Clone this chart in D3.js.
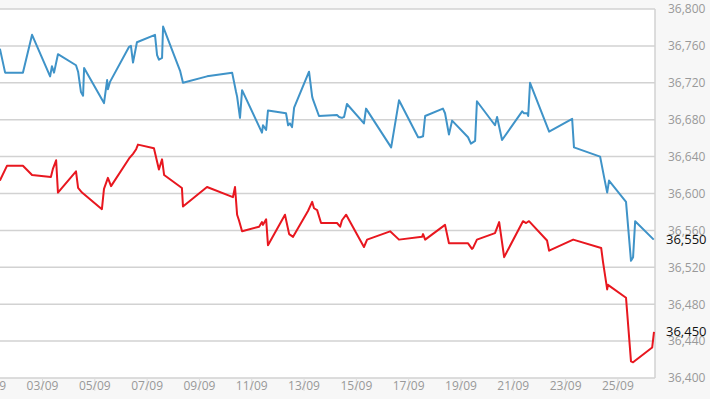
<!DOCTYPE html>
<html>
<head>
<meta charset="utf-8">
<script src="https://cdn.jsdelivr.net/npm/d3@7"></script>
<style>
  body { margin: 0; background: #f7f7f7; }
  text { font-family: "Open Sans", sans-serif; }
</style>
</head>
<body>
<svg id="chart" width="710" height="399"></svg>
<script>
"use strict";

// Times are day-of-September (fractional), values in price points
var blueDays = [1.39, 1.59, 2.27, 2.62, 3.31, 3.38, 3.46, 3.61, 4.30, 4.38, 4.49, 4.57, 4.61,
  5.37, 5.49, 5.52, 5.60, 6.33, 6.40, 6.48, 6.63, 7.32, 7.40, 7.47, 7.59, 7.63, 8.28, 8.39,
  9.31, 10.27, 10.42, 10.46, 10.57, 10.65, 11.41, 11.45, 11.57, 11.64, 12.33, 12.41, 12.48,
  12.56, 12.64, 13.21, 13.33, 13.36, 13.59, 14.28, 14.36, 14.47, 14.55, 14.66, 15.31, 15.39,
  16.35, 16.65, 17.38, 17.46, 17.57, 17.65, 18.33, 18.41, 18.56, 18.68, 19.29, 19.40, 19.56,
  19.63, 20.32, 20.40, 20.59, 21.36, 21.43, 21.55, 21.59, 21.66, 22.39, 23.27, 23.34, 24.34,
  24.49, 24.61, 24.68, 25.33, 25.52, 25.60, 25.68, 26.39];
var blueValues = [36757, 36731, 36731, 36772, 36727, 36738, 36731, 36751, 36739, 36732, 36710, 36706, 36736,
  36698, 36723, 36713, 36721, 36759, 36760, 36742, 36764, 36772, 36750, 36745, 36747, 36781, 36733, 36720,
  36727, 36731, 36710, 36705, 36682, 36712, 36666, 36674, 36669, 36690, 36687, 36674, 36676,
  36672, 36693, 36732, 36705, 36702, 36684, 36685, 36683, 36682, 36683, 36697, 36676, 36692,
  36650, 36701, 36661, 36661, 36662, 36684, 36692, 36687, 36664, 36679, 36661, 36654, 36657,
  36700, 36674, 36683, 36658, 36689, 36687, 36687, 36684, 36720, 36667, 36681, 36650, 36640,
  36618, 36601, 36614, 36591, 36527, 36531, 36570, 36550];

var redDays = [1.39, 1.66, 2.27, 2.62, 3.34, 3.42, 3.54, 3.61, 4.30, 4.38, 4.53, 5.29, 5.37,
  5.52, 5.64, 6.33, 6.48, 6.60, 6.67, 7.28, 7.47, 7.59, 7.67, 8.35, 8.39, 9.31, 10.30, 10.38,
  10.46, 10.53, 10.65, 11.30, 11.41, 11.45, 11.57, 11.64, 12.29, 12.45, 12.60, 13.17, 13.33,
  13.40, 13.52, 13.67, 14.28, 14.40, 14.47, 14.63, 15.31, 15.43, 16.31, 16.65, 17.53, 17.57,
  17.65, 18.41, 18.56, 19.29, 19.44, 19.48, 19.63, 20.32, 20.48, 20.67, 21.39, 21.51, 21.62,
  22.31, 22.39, 23.31, 24.38, 24.45, 24.61, 24.64, 25.33, 25.52, 25.60, 26.33, 26.40];
var redValues = [36614, 36630, 36630, 36620, 36618, 36627, 36636, 36601, 36624, 36606, 36601, 36583, 36605,
  36617, 36608, 36638, 36643, 36648, 36653, 36649, 36626, 36637, 36620, 36606, 36586, 36607, 36596, 36607,
  36577, 36571, 36559, 36564, 36569, 36566, 36572, 36544, 36577, 36556, 36553, 36581, 36591,
  36584, 36582, 36568, 36568, 36564, 36571, 36577, 36542, 36550, 36559, 36550, 36553, 36556,
  36550, 36566, 36546, 36546, 36540, 36541, 36550, 36557, 36569, 36531, 36570, 36568, 36570,
  36549, 36538, 36550, 36541, 36526, 36496, 36501, 36487, 36418, 36417, 36433, 36450];

var yTicks = [36400, 36440, 36480, 36520, 36560, 36600, 36640, 36680, 36720, 36760, 36800];
var xTickDays = [1, 3, 5, 7, 9, 11, 13, 15, 17, 19, 21, 23, 25];
var lastLabels = [36550, 36450];

// day-of-month with fraction -> Date in Sept 2023
var toDate = function (d) {
  return new Date(2023, 8, 1, 0, 0, 0, (d - 1) * 864e5);
};

var plot = { left: 0, top: 9, right: 655, bottom: 378 };

var svg = d3.select('#chart');

var x = d3.scaleTime()
  .domain([toDate(1.394), toDate(26.40)])
  .range([plot.left, plot.right - 1]);

var y = d3.scaleLinear()
  .domain([36400, 36800])
  .range([plot.bottom, plot.top]);

var fmt = d3.format(',');

// plot background
svg.append('rect')
  .attr('x', plot.left)
  .attr('y', plot.top)
  .attr('width', plot.right - plot.left)
  .attr('height', plot.bottom - plot.top)
  .attr('fill', '#fff');

// horizontal grid
svg.append('g')
  .selectAll('line')
  .data(yTicks)
  .enter().append('line')
    .attr('x1', plot.left)
    .attr('x2', plot.right)
    .attr('y1', function (v) { return y(v); })
    .attr('y2', function (v) { return y(v); })
    .attr('stroke', '#d2d2d2')
    .attr('stroke-width', 1.5);

// right border
svg.append('line')
  .attr('x1', plot.right).attr('x2', plot.right)
  .attr('y1', plot.top).attr('y2', plot.bottom)
  .attr('stroke', '#d2d2d2')
  .attr('stroke-width', 1.5);

// x axis (tick marks run through the labels, as in the original)
var xAxis = d3.axisBottom(x)
  .tickValues(xTickDays.map(toDate))
  .tickFormat(d3.timeFormat('%d/%m'))
  .tickSize(13);

var gx = svg.append('g')
  .attr('transform', 'translate(0,' + plot.bottom + ')')
  .call(xAxis);
gx.select('.domain').remove();
gx.selectAll('line').attr('stroke', '#dcdcdc');
gx.selectAll('text')
  .attr('y', 3)
  .attr('fill', '#999')
  .attr('font-size', 12)
  .attr('font-family', '"Open Sans", sans-serif');

// y axis labels on the right
var yAxis = d3.axisRight(y)
  .tickValues(yTicks)
  .tickFormat(fmt)
  .tickSize(0)
  .tickPadding(13);

var gy = svg.append('g')
  .attr('transform', 'translate(' + plot.right + ',0)')
  .call(yAxis);
gy.select('.domain').remove();
gy.selectAll('text')
  .attr('fill', '#999')
  .attr('font-size', 12)
  .attr('font-family', '"Open Sans", sans-serif');

// series
var line = d3.line()
  .x(function (p) { return x(toDate(p[0])); })
  .y(function (p) { return y(p[1]); });

var series = [
  { days: blueDays, values: blueValues, color: '#3f93c8' },
  { days: redDays, values: redValues, color: '#e8171f' }
];

series.forEach(function (s) {
  svg.append('path')
    .datum(d3.zip(s.days, s.values))
    .attr('fill', 'none')
    .attr('stroke', s.color)
    .attr('stroke-width', 2)
    .attr('stroke-linejoin', 'round')
    .attr('d', line);
});

// last value labels
svg.append('g')
  .selectAll('text')
  .data(lastLabels)
  .enter().append('text')
    .attr('x', plot.right + 11)
    .attr('y', function (v) { return y(v); })
    .attr('dy', '0.35em')
    .attr('fill', '#111')
    .attr('font-size', 13)
    .text(fmt);
</script>
</body>
</html>
